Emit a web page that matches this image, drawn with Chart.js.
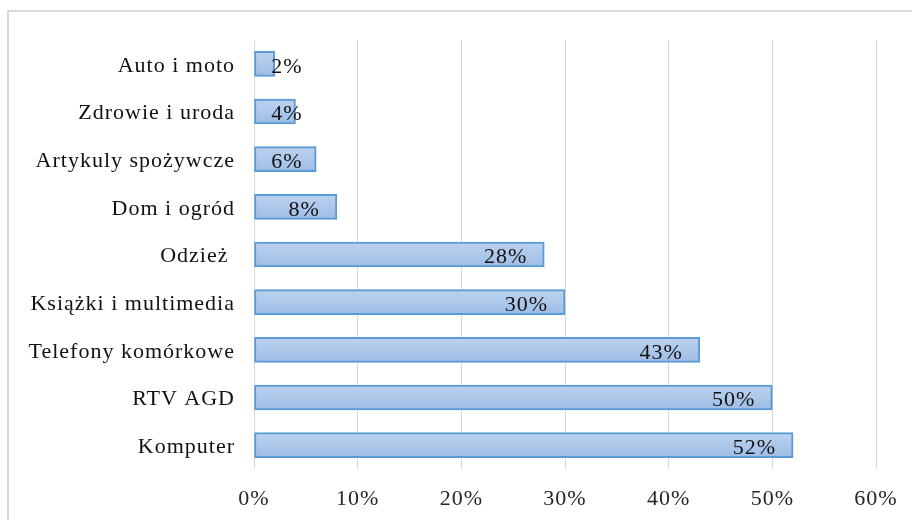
<!DOCTYPE html>
<html>
<head>
<meta charset="utf-8">
<script src="https://cdn.jsdelivr.net/npm/chart.js@4/dist/chart.umd.min.js"></script>
<style>
    html, body { margin: 0; padding: 0; background: #fff; }
    #wrap { width: 912px; height: 520px; position: relative; }
</style>
</head>
<body>
<div id="wrap"><canvas id="chart"></canvas></div>
<script>
const categories = [
    "Auto i moto",
    "Zdrowie i uroda",
    "Artykuly spożywcze",
    "Dom i ogród",
    "Odzież ",
    "Książki i multimedia",
    "Telefony komórkowe",
    "RTV AGD",
    "Komputer"
];
const shares = [2, 4, 6, 8, 28, 30, 43, 50, 52];
const tickValues = [0, 10, 20, 30, 40, 50, 60];

const FONT = "'Liberation Serif', 'Times New Roman', serif";
const FONT_SIZE = 22;
const GRID_COLOR = "#d9d9d9";
const BAR_BORDER = "#5b9bd5";
const BAR_THICKNESS = 25;

// Slightly wider text spacing for every label on the canvas
const spacingPlugin = {
    id: "spacing",
    beforeUpdate(chart) { chart.ctx.letterSpacing = "1px"; },
    beforeDraw(chart) { chart.ctx.letterSpacing = "1px"; }
};

// Frame round the whole chart
const framePlugin = {
    id: "frame",
    beforeDraw(chart) {
        const ctx = chart.ctx;
        ctx.save();
        ctx.strokeStyle = GRID_COLOR;
        ctx.lineWidth = 2;
        ctx.strokeRect(8, 11, chart.width + 20, chart.height + 20);
        ctx.restore();
    }
};

// Value labels at the inner end of every bar
const valueLabels = {
    id: "valueLabels",
    afterDatasetsDraw(chart) {
        const ctx = chart.ctx;
        const meta = chart.getDatasetMeta(0);
        ctx.save();
        ctx.font = FONT_SIZE + "px " + FONT;
        ctx.fillStyle = "#111";
        ctx.textAlign = "right";
        ctx.textBaseline = "middle";
        meta.data.forEach((bar, i) => {
            const x = Math.max(bar.x - 17, bar.base + 48);
            ctx.fillText(shares[i] + "%", x, bar.y + 3);
        });
        ctx.restore();
    }
};

// Vertical light-to-darker blue fill, one gradient per bar
function barFill(context) {
    const chart = context.chart;
    const yScale = chart.scales && chart.scales.y;
    if (!chart.chartArea || !yScale) return "#aec8ea";
    const cy = yScale.getPixelForValue(context.dataIndex);
    if (!Number.isFinite(cy)) return "#aec8ea";
    const top = cy - BAR_THICKNESS / 2;
    const g = chart.ctx.createLinearGradient(0, top, 0, top + BAR_THICKNESS);
    g.addColorStop(0, "#bcd2ee");
    g.addColorStop(0.5, "#aec8ea");
    g.addColorStop(1, "#9cbce5");
    return g;
}

new Chart(document.getElementById("chart"), {
    type: "bar",
    data: {
        labels: categories,
        datasets: [{
            data: shares,
            backgroundColor: barFill,
            borderColor: BAR_BORDER,
            borderWidth: 2,
            borderSkipped: false,
            barThickness: BAR_THICKNESS
        }]
    },
    options: {
        indexAxis: "y",
        responsive: true,
        maintainAspectRatio: false,
        animation: false,
        layout: { padding: { left: 0, right: 36, top: 40, bottom: 0 } },
        plugins: {
            legend: { display: false },
            tooltip: { enabled: false }
        },
        scales: {
            x: {
                min: 0,
                max: 60,
                afterBuildTicks(scale) {
                    scale.ticks = tickValues.map(v => ({ value: v }));
                },
                afterFit(scale) {
                    scale.height = 520 - 469;
                    scale.paddingLeft = 0;
                    scale.paddingRight = 0;
                },
                grid: { color: GRID_COLOR, lineWidth: 1, drawTicks: false },
                border: { display: false },
                ticks: {
                    padding: 17,
                    color: "#262626",
                    font: { family: FONT, size: FONT_SIZE },
                    callback: v => v + "%"
                }
            },
            y: {
                afterFit(scale) { scale.width = 254; },
                grid: { display: false, drawTicks: false },
                border: { display: false },
                ticks: {
                    padding: 19,
                    labelOffset: 2,
                    color: "#111",
                    font: { family: FONT, size: FONT_SIZE }
                }
            }
        }
    },
    plugins: [spacingPlugin, framePlugin, valueLabels]
});
</script>
</body>
</html>
